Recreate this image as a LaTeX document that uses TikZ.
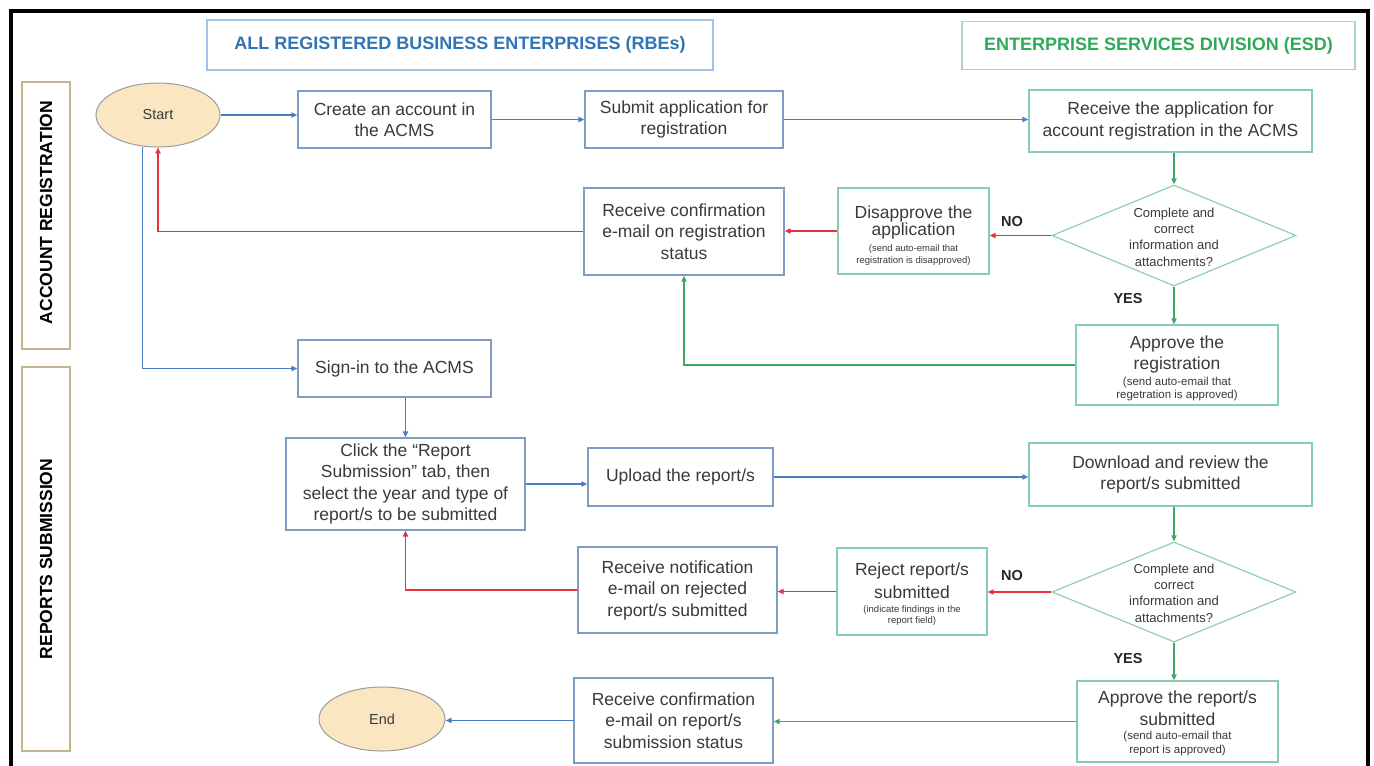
\documentclass[tikz,border=0pt]{standalone}
\usepackage{fontspec}
\setmainfont{Liberation Sans}
\usetikzlibrary{shapes.geometric,arrows.meta}
\definecolor{txt}{HTML}{3A3A3A}
\definecolor{rbeborder}{HTML}{7F9CC3}
\definecolor{esdborder}{HTML}{86CDB0}
\definecolor{lineblue}{HTML}{4A7EC2}
\definecolor{linered}{HTML}{E5323A}
\definecolor{linegreen}{HTML}{3FA56B}
\definecolor{hdrblue}{HTML}{2F75B5}
\definecolor{hdrblueborder}{HTML}{9DC3E6}
\definecolor{hdrgreen}{HTML}{2EAA58}
\definecolor{hdrgreenborder}{HTML}{A8D9B8}
\definecolor{laneborder}{HTML}{C2B48C}
\definecolor{termfill}{HTML}{FBE6C2}
\definecolor{termborder}{HTML}{9C9C9C}
\newcommand{\finea}{\fontsize{9.5}{11}\selectfont}
\newcommand{\fineb}{\fontsize{11.5}{13}\selectfont}
\tikzset{
  procbox/.style={draw, fill=white, align=center, inner sep=1pt, text=txt, line width=1.1pt,
    font=\fontsize{17.5}{21.5}\selectfont},
  rbebox/.style={procbox, draw=rbeborder},
  esdbox/.style={procbox, draw=esdborder},
  term/.style={ellipse, draw=termborder, fill=termfill, line width=1pt, inner sep=0pt,
    font=\fontsize{14.5}{17}\selectfont, text=txt},
  decision/.style={diamond, draw=esdborder, fill=white, line width=1.1pt, inner sep=0pt},
  dectext/.style={align=center, inner sep=0pt, font=\fontsize{13}{16.3}\selectfont, text=txt},
  header/.style={draw, line width=1.2pt, fill=white, inner sep=0pt, font=\bfseries\fontsize{18}{21}\selectfont},
  lane/.style={draw=laneborder, line width=1.2pt, inner sep=0pt},
  lanetext/.style={rotate=90, font=\bfseries\fontsize{17.5}{20}\selectfont, text=black},
  yesno/.style={font=\bfseries\fontsize{14.5}{17}\selectfont, text=black!85},
  tip/.style={-{Triangle[length=6pt,width=5pt]}},
  blueline/.style={draw=lineblue, line width=1.6pt, tip},
  redline/.style={draw=linered, line width=1.6pt, tip},
  greenline/.style={draw=linegreen, line width=1.6pt, tip}
}
\begin{document}
\begin{tikzpicture}[x=1pt,y=-1pt]
\useasboundingbox (0,0) rectangle (1374,766);
\fill[white] (0,0) rectangle (1374,766);
% outer frame
\draw[line width=4pt, black] (11,780) -- (11,10.5) -- (1368,10.5) -- (1368,780);

% headers
\node[header, draw=hdrblueborder, text=hdrblue, minimum width=506, minimum height=50] (hrbe) at (460,45) {ALL REGISTERED BUSINESS ENTERPRISES (RBEs)};
\node[header, draw=hdrgreenborder, text=hdrgreen, minimum width=393, minimum height=48] (hesd) at (1158.5,45.5) {ENTERPRISE SERVICES DIVISION (ESD)};

% lanes
\node[lane, minimum width=48, minimum height=267] (lane1) at (46,215.5) {};
\node[lanetext] (lane1t) at (46,212.5) {ACCOUNT REGISTRATION};
\node[lane, minimum width=48, minimum height=384] (lane2) at (46,559) {};
\node[lanetext] (lane2t) at (lane2) {REPORTS SUBMISSION};

% nodes
\node[term, minimum width=124, minimum height=64] (start) at (158,115) {Start};
\node[rbebox, minimum width=193, minimum height=57] (create) at (394.5,119.5) {Create an account in\\the ACMS};
\node[rbebox, minimum width=198, minimum height=57] (submit) at (684,119.5) {Submit application for\\registration};
\node[esdbox, minimum width=283, minimum height=62] (recapp) at (1170.5,121) {Receive the application for\\account registration in the ACMS};
\node[decision, minimum width=244, minimum height=101] (d1) at (1174,235.5) {};
\node[dectext] (d1t) at (1174,237) {Complete and\\correct\\information and\\attachments?};
\node[esdbox, minimum width=151, minimum height=86] (disapp) at (913.5,231) {\rule{0pt}{22pt}Disapprove the\\[-4.5pt]application\\[-6.4pt]{\finea (send auto-email that}\\[-9.5pt]{\finea registration is disapproved)}};
\node[rbebox, minimum width=200, minimum height=87] (recconf) at (684,231.5) {Receive confirmation\\e-mail on registration\\status};
\node[esdbox, minimum width=202, minimum height=80] (approve) at (1177,365) {\rule{0pt}{19.5pt}Approve the\\registration\\[-5.5pt]{\fineb (send auto-email that}\\[-8.5pt]{\fineb regetration is approved)}};
\node[rbebox, minimum width=193, minimum height=57] (signin) at (394.5,368.5) {Sign-in to the ACMS};
\node[rbebox, minimum width=239, minimum height=92] (click) at (405.5,484) {Click the ``Report\\Submission'' tab, then\\select the year and type of\\report/s to be submitted};
\node[rbebox, minimum width=185, minimum height=58] (upload) at (680.5,477) {Upload the report/s};
\node[esdbox, minimum width=283, minimum height=63] (download) at (1170.5,474.5) {Download and review the\\report/s submitted};
\node[decision, minimum width=244, minimum height=100] (d2) at (1174,592) {};
\node[dectext] (d2t) at (1174,593) {Complete and\\correct\\information and\\attachments?};
\node[esdbox, minimum width=150, minimum height=87] (reject) at (912,591.5) {\rule{0pt}{18.5pt}Reject report/s\\[1.5pt]submitted\\[-7.4pt]{\finea (indicate findings in the}\\[-10.5pt]{\finea report field)}};
\node[rbebox, minimum width=199, minimum height=86] (recnotif) at (677.5,590) {Receive notification\\e-mail on rejected\\report/s submitted};
\node[esdbox, minimum width=201, minimum height=81] (approverep) at (1177.5,721.5) {\rule{0pt}{16.5pt}Approve the report/s\\submitted\\[-7.5pt]{\fineb (send auto-email that}\\[-7.5pt]{\fineb report is approved)}};
\node[rbebox, minimum width=199, minimum height=85] (recconfrep) at (673.5,720.5) {Receive confirmation\\e-mail on report/s\\submission status};
\node[term, minimum width=126, minimum height=64] (end) at (382,719) {End};

% yes/no labels
\node[yesno] (no1) at (1012,222) {NO};
\node[yesno] (yes1) at (1128,299) {YES};
\node[yesno] (no2) at (1012,576) {NO};
\node[yesno] (yes2) at (1128,658) {YES};

% connectors
\draw[blueline] (start.east) -- (start.east -| create.west);
\draw[blueline] (create.east) -- (create.east -| submit.west);
\draw[blueline] (submit.east) -- (submit.east -| recapp.west);
\draw[greenline] (d1.north |- recapp.south) -- (d1.north);
\draw[redline] (d1.west) -- (d1.west -| disapp.east);
\draw[redline] (disapp.west) -- (disapp.west -| recconf.east);
\draw[redline] (recconf.west) -| (start.south);
\draw[greenline] (d1.south) -- (d1.south |- approve.north);
\draw[greenline] (approve.west) -| (recconf.south);
\draw[blueline] (start.244) |- (signin.west);
\draw[blueline] (click.north |- signin.south) -- (click.north);
\draw[blueline] (click.east) -- (click.east -| upload.west);
\draw[blueline] (upload.east) -- (upload.east -| download.west);
\draw[greenline] (d2.north |- download.south) -- (d2.north);
\draw[redline] (d2.west) -- (d2.west -| reject.east);
\draw[redline] (reject.west) -- (reject.west -| recnotif.east);
\draw[redline] (recnotif.west) -| (click.south);
\draw[greenline] (d2.south) -- (d2.south |- approverep.north);
\draw[greenline] (approverep.west) -- (approverep.west -| recconfrep.east);
\draw[blueline] (recconfrep.west) -- (recconfrep.west -| end.east);
\end{tikzpicture}
\end{document}
